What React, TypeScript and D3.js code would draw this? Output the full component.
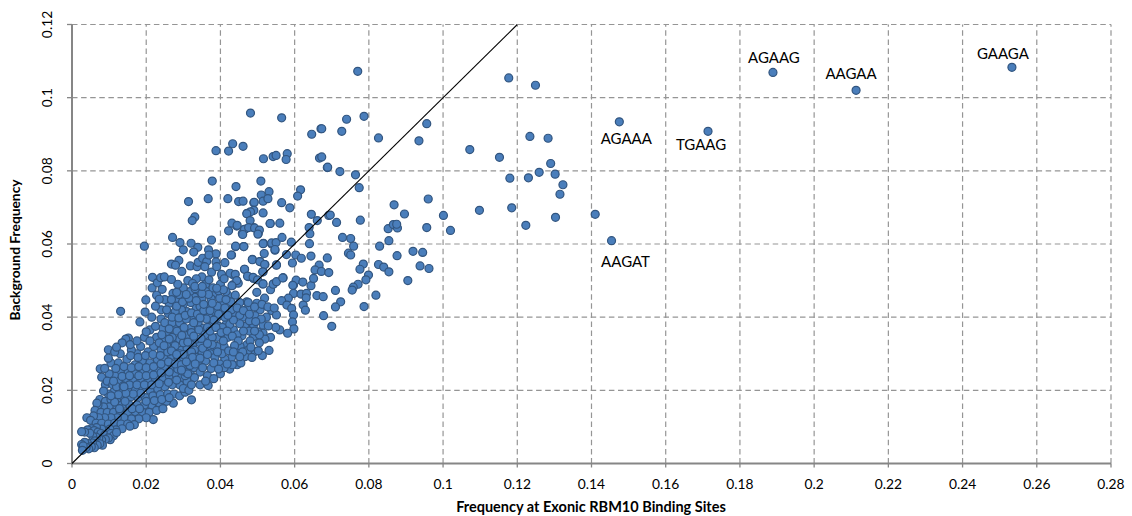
import React from "react";
import * as d3 from "d3";

type P = [number, number];

const xTicks = [0, 0.02, 0.04, 0.06, 0.08, 0.1, 0.12, 0.14, 0.16, 0.18, 0.2, 0.22, 0.24, 0.26, 0.28];
const yTicks = [0, 0.02, 0.04, 0.06, 0.08, 0.1, 0.12];
const xTitle = "Frequency at Exonic RBM10 Binding Sites";
const yTitle = "Background Frequency";

const labelled: { name: string; x: number; y: number; dx: number; dy: number }[] = [
  { name: "GAAGA", x: 0.2533, y: 0.1083, dx: -9, dy: -8 },
  { name: "AGAAG", x: 0.1889, y: 0.1069, dx: 1, dy: -9 },
  { name: "AAGAA", x: 0.2113, y: 0.102, dx: -5, dy: -11 },
  { name: "TGAAG", x: 0.1714, y: 0.0908, dx: -7, dy: 19 },
  { name: "AGAAA", x: 0.1475, y: 0.0934, dx: 7, dy: 22 },
  { name: "AAGAT", x: 0.1454, y: 0.0609, dx: 14, dy: 26 },
];

const sparseRight: P[] = [
  [.0770,.1072],[.1177,.1054],[.1249,.1034],[.0956,.0929],[.0787,.0949],[.0740,.0941],[.0673,.0915],[.0727,.0908],
  [.0826,.0890],[.0935,.0882],[.1234,.0894],[.1283,.0889],[.1072,.0858],[.1152,.0837],[.1290,.0820],[.1259,.0796],
  [.1302,.0791],[.1180,.0780],[.1230,.0781],[.1323,.0762],[.1315,.0736],[.0689,.0810],[.0722,.0798],[.0764,.0789],
  [.0774,.0754],[.0960,.0723],[.0868,.0707],[.0896,.0682],[.0696,.0679],[.0713,.0659],[.0777,.0665],[.1001,.0678],
  [.1098,.0692],[.1185,.0699],[.1303,.0673],[.1410,.0681],[.1223,.0651],[.1020,.0637],[.0956,.0645],[.0852,.0642],
  [.0866,.0653],[.0877,.0644],[.0875,.0654],[.0729,.0618],[.0751,.0615],[.0759,.0594],[.0829,.0594],[.0854,.0609],
  [.0745,.0575],[.0751,.0570],[.0919,.0580],[.0945,.0577],[.0938,.0540],[.0962,.0533],[.0876,.0568],[.0785,.0545],
  [.0776,.0531],[.0826,.0544],[.0840,.0537],[.0854,.0524],[.0799,.0515],[.0792,.0502],[.0905,.0500],[.0771,.0490],
  [.0758,.0482],[.0755,.0474],[.0819,.0460],[.0710,.0473],[.0787,.0429],[.0724,.0442],[.0710,.0428],[.0678,.0404],[.0700,.0375],
  [.0673,.0838],
];

const sparseUpper: P[] = [
  [.0481,.0958],[.0565,.0945],[.0646,.0900],[.0671,.0915],[.0388,.0855],[.0422,.0854],[.0433,.0874],[.0461,.0867],
  [.0516,.0833],[.0542,.0839],[.0550,.0842],[.0580,.0847],[.0577,.0831],[.0667,.0835],[.0688,.0809],[.0378,.0772],
  [.0442,.0757],[.0509,.0772],[.0616,.0748],[.0608,.0731],[.0531,.0743],[.0510,.0734],[.0314,.0716],[.0367,.0724],
  [.0420,.0724],[.0449,.0716],[.0461,.0717],[.0491,.0714],[.0515,.0717],[.0528,.0724],[.0565,.0713],[.0587,.0699],
  [.0331,.0674],[.0324,.0664],[.0515,.0685],[.0490,.0692],[.0481,.0688],[.0471,.0683],[.0480,.0664],[.0431,.0657],
  [.0445,.0651],[.0422,.0636],[.0465,.0640],[.0476,.0645],[.0492,.0644],[.0505,.0638],[.0501,.0627],[.0460,.0626],
  [.0534,.0656],[.0560,.0657],[.0645,.0681],[.0661,.0664],[.0639,.0645],[.0641,.0628],[.0692,.0678],[.0271,.0618],
  [.0291,.0604],[.0321,.0602],[.0339,.0591],[.0300,.0584],[.0328,.0578],[.0376,.0611],[.0195,.0594],[.0441,.0594],
  [.0463,.0593],[.0515,.0601],[.0538,.0603],[.0550,.0604],[.0547,.0585],[.0566,.0618],[.0591,.0605],[.0640,.0601],
  [.0518,.0574],[.0578,.0571],[.0603,.0570],[.0644,.0567],[.0618,.0561],[.0688,.0562],[.0594,.0548],[.0368,.0584],
  [.0388,.0573],[.0429,.0570],[.0412,.0549],[.0486,.0557],[.0506,.0552],[.0519,.0544],[.0551,.0542],[.0288,.0555],
  [.0268,.0545],[.0279,.0542],[.0296,.0525],[.0319,.0540],[.0337,.0538],[.0340,.0550],[.0352,.0561],[.0363,.0552],
  [.0369,.0570],[.0388,.0551],[.0376,.0523],[.0358,.0538],[.0390,.0538],[.0465,.0531],[.0514,.0524],[.0666,.0542],
  [.0655,.0529],[.0672,.0525],[.0692,.0522],[.0217,.0509],[.0230,.0494],[.0239,.0508],[.0249,.0510],[.0268,.0503],
  [.0243,.0476],[.0331,.0484],[.0351,.0484],[.0369,.0502],[.0403,.0517],[.0426,.0520],[.0440,.0517],[.0410,.0505],
  [.0444,.0500],[.0431,.0486],[.0473,.0512],[.0488,.0509],[.0500,.0502],[.0515,.0491],[.0542,.0490],[.0551,.0497],
  [.0568,.0507],[.0604,.0501],[.0595,.0487],[.0622,.0496],[.0644,.0486],[.0651,.0506],[.0390,.0479],
];

const midCloud: P[] = [
  [.0597,.0488],[.0597,.0465],[.0617,.0463],[.0632,.0465],[.0631,.0453],[.0660,.0459],[.0677,.0456],[.0623,.0433],
  [.0629,.0419],[.0583,.0452],[.0565,.0445],[.0579,.0433],[.0592,.0424],[.0597,.0406],[.0594,.0387],[.0598,.0368],
  [.0581,.0356],[.0560,.0365],[.0549,.0372],[.0569,.0508],[.0543,.0491],[.0535,.0475],[.0519,.0452],[.0498,.0468],
  [.0514,.0491],[.0551,.0543],[.0515,.0524],[.0520,.0544],[.0507,.0552],[.0486,.0558],[.0538,.0600],[.0516,.0602],
  [.0547,.0583],[.0534,.0656],[.0472,.0684],[.0490,.0713],[.0459,.0629],[.0466,.0640],[.0489,.0645],[.0502,.0629],
  [.0444,.0649],[.0441,.0593],[.0463,.0593],[.0430,.0570],[.0465,.0531],[.0475,.0511],[.0489,.0506],[.0435,.0515],
  [.0433,.0488],[.0448,.0493],[.0471,.0442],[.0498,.0438],[.0475,.0424],[.0507,.0420],[.0538,.0418],[.0551,.0406],
  [.0493,.0404],[.0524,.0400],[.0462,.0400],[.0439,.0406],[.0489,.0378],[.0466,.0375],[.0435,.0365],[.0515,.0378],
  [.0529,.0376],[.0515,.0356],[.0535,.0345],[.0489,.0347],[.0458,.0349],[.0520,.0340],[.0531,.0309],[.0513,.0295],
  [.0493,.0306],[.0471,.0324],[.0453,.0320],[.0475,.0310],[.0444,.0302],[.0466,.0292],[.0480,.0335],[.0505,.0330],
  [.0500,.0360],[.0478,.0390],[.0510,.0395],[.0452,.0440],[.0430,.0420],[.0420,.0460],[.0405,.0440],[.0412,.0400],
  [.0425,.0380],[.0445,.0352],[.0420,.0345],[.0405,.0372],[.0390,.0398],[.0392,.0430],[.0375,.0450],[.0362,.0470],
  [.0410,.0320],[.0430,.0290],[.0412,.0285],[.0445,.0270],[.0425,.0258],[.0398,.0272],[.0404,.0300],[.0390,.0320],
  [.0378,.0345],[.0365,.0372],[.0352,.0400],[.0345,.0430],[.0330,.0455],[.0318,.0470],[.0300,.0480],[.0372,.0300],
  [.0385,.0290],[.0360,.0280],[.0375,.0260],[.0400,.0245],[.0382,.0232],[.0360,.0225],[.0345,.0250],[.0340,.0280],
  [.0352,.0315],[.0335,.0340],[.0320,.0370],[.0308,.0395],[.0295,.0420],[.0285,.0445],[.0272,.0465],[.0262,.0438],
  [.0278,.0415],[.0312,.0350],[.0300,.0330],[.0322,.0305],[.0335,.0290],[.0318,.0268],[.0330,.0235],[.0305,.0250],
  [.0322,.0215],[.0452,.0405],[.0415,.0470],[.0440,.0460],[.0400,.0490],[.0380,.0480],[.0350,.0510],[.0335,.0505],
  [.0312,.0500],[.0285,.0490],[.0300,.0455],[.0270,.0400],[.0255,.0420],[.0250,.0448],[.0235,.0449],[.0225,.0430],
];

const midCloudExtra: P[] = [
  [.0242,.0352],[.0262,.0368],[.0283,.0362],[.0302,.0372],[.0322,.0358],[.0342,.0365],[.0358,.0352],[.0372,.0362],
  [.0388,.0372],[.0402,.0358],[.0418,.0362],[.0432,.0348],[.0448,.0335],[.0438,.0322],[.0422,.0308],[.0408,.0335],
  [.0392,.0305],[.0378,.0325],[.0365,.0328],[.0348,.0342],[.0328,.0348],[.0312,.0332],[.0296,.0350],[.0278,.0322],
  [.0262,.0340],[.0248,.0322],[.0288,.0398],[.0305,.0405],[.0322,.0412],[.0338,.0408],[.0355,.0418],[.0372,.0418],
  [.0395,.0408],[.0412,.0425],[.0428,.0442],[.0445,.0425],[.0462,.0418],[.0478,.0408],[.0495,.0388],[.0478,.0362],
  [.0462,.0362],[.0452,.0382],[.0435,.0392],[.0420,.0405],[.0382,.0392],[.0362,.0395],[.0345,.0398],[.0328,.0385],
  [.0282,.0430],[.0298,.0442],[.0315,.0452],[.0335,.0445],[.0355,.0435],[.0378,.0438],[.0398,.0452],[.0415,.0448],
  [.0368,.0462],[.0350,.0465],[.0332,.0478],[.0395,.0472],[.0408,.0475],[.0268,.0448],[.0288,.0462],[.0308,.0462],
  [.0282,.0468],[.0325,.0492],[.0300,.0298],[.0325,.0290],[.0345,.0288],[.0365,.0298],[.0382,.0275],[.0410,.0262],
  [.0395,.0258],[.0352,.0262],[.0332,.0272],[.0312,.0245],[.0295,.0255],[.0308,.0278],[.0268,.0308],[.0282,.0298],
  [.0432,.0270],[.0418,.0272],[.0455,.0275],[.0485,.0290],[.0502,.0308],[.0505,.0352],[.0492,.0362],[.0482,.0318],
  [.0460,.0305],[.0452,.0292],[.0435,.0305],[.0475,.0440],[.0492,.0428],[.0512,.0435],[.0528,.0428],[.0545,.0425],
];

const denseCloud: P[] = [
  [.0131,.0416],[.0199,.0447],[.0197,.0414],[.0183,.0387],[.0216,.0480],[.0228,.0460],[.0240,.0395],[.0210,.0365],
  [.0195,.0345],[.0228,.0345],[.0245,.0370],[.0260,.0355],[.0275,.0375],[.0290,.0360],[.0255,.0325],[.0275,.0330],
  [.0295,.0310],[.0240,.0310],[.0220,.0320],[.0205,.0305],[.0185,.0320],[.0175,.0300],[.0160,.0310],[.0152,.0343],
  [.0145,.0340],[.0157,.0325],[.0135,.0330],[.0130,.0300],[.0098,.0311],[.0115,.0305],[.0076,.0259],[.0080,.0236],
  [.0090,.0215],[.0105,.0275],[.0125,.0275],[.0148,.0285],[.0170,.0270],[.0190,.0280],[.0210,.0275],[.0230,.0285],
  [.0250,.0290],[.0268,.0295],[.0285,.0280],[.0300,.0290],[.0315,.0285],[.0270,.0265],[.0250,.0260],[.0230,.0255],
  [.0210,.0250],[.0190,.0255],[.0170,.0245],[.0150,.0255],[.0130,.0250],[.0115,.0240],[.0100,.0245],[.0095,.0225],
  [.0110,.0215],[.0128,.0225],[.0145,.0230],[.0165,.0225],[.0185,.0230],[.0205,.0225],[.0225,.0230],[.0245,.0235],
  [.0262,.0240],[.0280,.0245],[.0295,.0235],[.0310,.0225],[.0290,.0215],[.0270,.0215],[.0250,.0210],[.0230,.0205],
  [.0210,.0200],[.0190,.0205],[.0170,.0200],[.0150,.0205],[.0130,.0200],[.0112,.0195],[.0098,.0190],[.0085,.0198],
  [.0075,.0175],[.0090,.0170],[.0105,.0175],[.0122,.0178],[.0140,.0180],[.0158,.0182],[.0178,.0180],[.0198,.0180],
  [.0218,.0185],[.0238,.0188],[.0258,.0190],[.0275,.0190],[.0290,.0185],[.0305,.0195],[.0322,.0174],[.0273,.0165],
  [.0255,.0170],[.0235,.0165],[.0215,.0160],[.0195,.0160],[.0175,.0160],[.0155,.0160],[.0135,.0160],[.0115,.0158],
  [.0100,.0155],[.0085,.0155],[.0070,.0160],[.0067,.0165],[.0062,.0145],[.0078,.0140],[.0095,.0140],[.0112,.0140],
  [.0130,.0142],[.0150,.0140],[.0170,.0142],[.0190,.0140],[.0208,.0140],[.0228,.0145],[.0245,.0150],[.0219,.0120],
  [.0200,.0125],[.0180,.0122],[.0160,.0122],[.0140,.0125],[.0122,.0125],[.0105,.0125],[.0088,.0125],[.0072,.0125],
  [.0058,.0130],[.0040,.0125],[.0050,.0118],[.0065,.0110],[.0080,.0110],[.0098,.0108],[.0115,.0110],[.0132,.0108],
  [.0150,.0108],[.0168,.0106],[.0156,.0102],[.0135,.0095],[.0118,.0092],[.0102,.0094],[.0092,.0088],[.0080,.0094],
  [.0066,.0098],[.0052,.0095],[.0042,.0092],[.0060,.0090],[.0070,.0086],[.0078,.0082],[.0088,.0078],[.0105,.0082],
  [.0112,.0076],[.0120,.0085],[.0103,.0065],[.0098,.0070],[.0090,.0066],[.0080,.0064],[.0072,.0068],[.0065,.0072],
  [.0056,.0074],[.0048,.0083],[.0034,.0086],[.0026,.0087],[.0062,.0062],[.0082,.0050],[.0075,.0054],[.0068,.0050],
  [.0055,.0056],[.0042,.0055],[.0034,.0058],[.0060,.0043],[.0052,.0046],[.0045,.0040],[.0038,.0044],[.0026,.0052],
  [.0030,.0048],[.0028,.0036],[.0115,.0168],[.0128,.0150],[.0143,.0170],[.0162,.0150],[.0182,.0150],[.0200,.0170],
  [.0222,.0172],[.0242,.0175],[.0262,.0180],[.0185,.0192],[.0165,.0190],[.0145,.0192],[.0125,.0188],[.0105,.0185],
  [.0120,.0210],[.0138,.0212],[.0155,.0215],[.0175,.0215],[.0195,.0215],[.0215,.0215],[.0235,.0218],[.0260,.0222],
  [.0282,.0228],[.0300,.0205],[.0315,.0200],[.0345,.0215],[.0367,.0213],[.0135,.0238],[.0155,.0240],[.0180,.0240],
  [.0200,.0240],[.0220,.0242],[.0240,.0248],[.0262,.0250],[.0285,.0258],[.0305,.0265],[.0118,.0260],[.0140,.0265],
  [.0160,.0262],[.0180,.0265],[.0200,.0262],[.0220,.0265],[.0240,.0272],[.0260,.0278],[.0278,.0272],[.0158,.0295],
  [.0178,.0290],[.0198,.0295],[.0218,.0298],[.0238,.0295],[.0258,.0305],[.0275,.0310],[.0290,.0300],[.0310,.0315],
  [.0325,.0325],[.0345,.0330],[.0360,.0345],[.0345,.0305],[.0360,.0310],[.0375,.0320],[.0392,.0345],[.0410,.0350],
  [.0310,.0345],[.0290,.0340],[.0270,.0345],[.0250,.0340],[.0235,.0330],[.0210,.0335],[.0175,.0335],[.0200,.0360],
  [.0225,.0375],[.0250,.0385],[.0270,.0385],[.0290,.0385],[.0310,.0415],[.0325,.0400],[.0340,.0385],[.0355,.0370],
  [.0375,.0375],[.0395,.0375],[.0415,.0380],[.0370,.0400],[.0385,.0415],[.0400,.0420],[.0365,.0430],[.0350,.0450],
  [.0335,.0425],[.0320,.0440],[.0300,.0435],[.0280,.0430],[.0260,.0410],[.0240,.0420],[.0215,.0400],[.0120,.0318],
  [.0098,.0288],[.0088,.0260],[.0112,.0225],[.0140,.0210],[.0340,.0470],[.0360,.0490],[.0385,.0465],[.0405,.0510],
  [.0350,.0300],[.0330,.0310],[.0320,.0255],[.0345,.0265],[.0365,.0240],[.0330,.0262],[.0295,.0270],[.0305,.0240],
];

const allPoints: P[] = [...denseCloud, ...midCloud, ...midCloudExtra, ...sparseUpper, ...sparseRight, ...labelled.map((d) => [d.x, d.y] as P)];

const FONT = "Lato, Carlito, sans-serif";

export default function App() {
  const x = d3.scaleLinear().domain([0, 0.28]).range([72, 1111]);
  const y = d3.scaleLinear().domain([0, 0.12]).range([463.5, 24.5]);
  const fmt = (v: number) => String(+v.toFixed(2));
  const axisC = "#868686";
  const gridC = "#959595";
  const dash = "5.5 3.6";

  return (
    <svg width={1132} height={516} style={{ position: "absolute", left: 0, top: 0, background: "#fff" }}>
      <g>
        {xTicks.slice(1).map((t) => (
          <line key={t} x1={x(t)} x2={x(t)} y1={y(0)} y2={y(0.12)} stroke={gridC} strokeWidth={1.2} strokeDasharray={dash} />
        ))}
        {yTicks.slice(1).map((t) => (
          <line key={t} x1={x(0)} x2={x(0.28)} y1={y(t)} y2={y(t)} stroke={gridC} strokeWidth={1.2} strokeDasharray={dash} />
        ))}
      </g>
      <line x1={x(0)} x2={x(0)} y1={y(0.12)} y2={y(0) + 1} stroke={axisC} strokeWidth={2} />
      <line x1={x(0) - 1} x2={x(0.28)} y1={y(0)} y2={y(0)} stroke={axisC} strokeWidth={2} />
      {xTicks.map((t) => (
        <line key={t} x1={x(t)} x2={x(t)} y1={y(0)} y2={y(0) + 4} stroke={axisC} strokeWidth={1.3} />
      ))}
      {yTicks.map((t) => (
        <line key={t} x1={x(0) - 5} x2={x(0)} y1={y(t)} y2={y(t)} stroke={axisC} strokeWidth={1.3} />
      ))}
      <g fill="#4a7ebb" stroke="#32557f" strokeWidth={1.2}>
        {allPoints.map((d, i) => (
          <circle key={i} cx={x(d[0])} cy={y(d[1])} r={4} />
        ))}
      </g>
      <line x1={x(0)} y1={y(0)} x2={x(0.12)} y2={y(0.12)} stroke="#000" strokeWidth={1.1} />
      <g fontFamily={FONT} fontSize={13.8} fill="#000">
        {xTicks.map((t) => (
          <text key={t} x={x(t)} y={489} textAnchor="middle">{fmt(t)}</text>
        ))}
        {yTicks.map((t) => (
          <text key={t} transform={`translate(52,${y(t)}) rotate(-90)`} textAnchor="middle">{fmt(t)}</text>
        ))}
        {labelled.map((d) => (
          <text key={d.name} x={x(d.x) + d.dx} y={y(d.y) + d.dy} textAnchor="middle" fontSize={15}>{d.name}</text>
        ))}
      </g>
      <text x={591} y={512} textAnchor="middle" fontFamily={FONT} fontSize={14.5} fontWeight={700}>{xTitle}</text>
      <text transform="translate(20,250) rotate(-90)" textAnchor="middle" fontFamily={FONT} fontSize={13.8} fontWeight={700}>{yTitle}</text>
    </svg>
  );
}
